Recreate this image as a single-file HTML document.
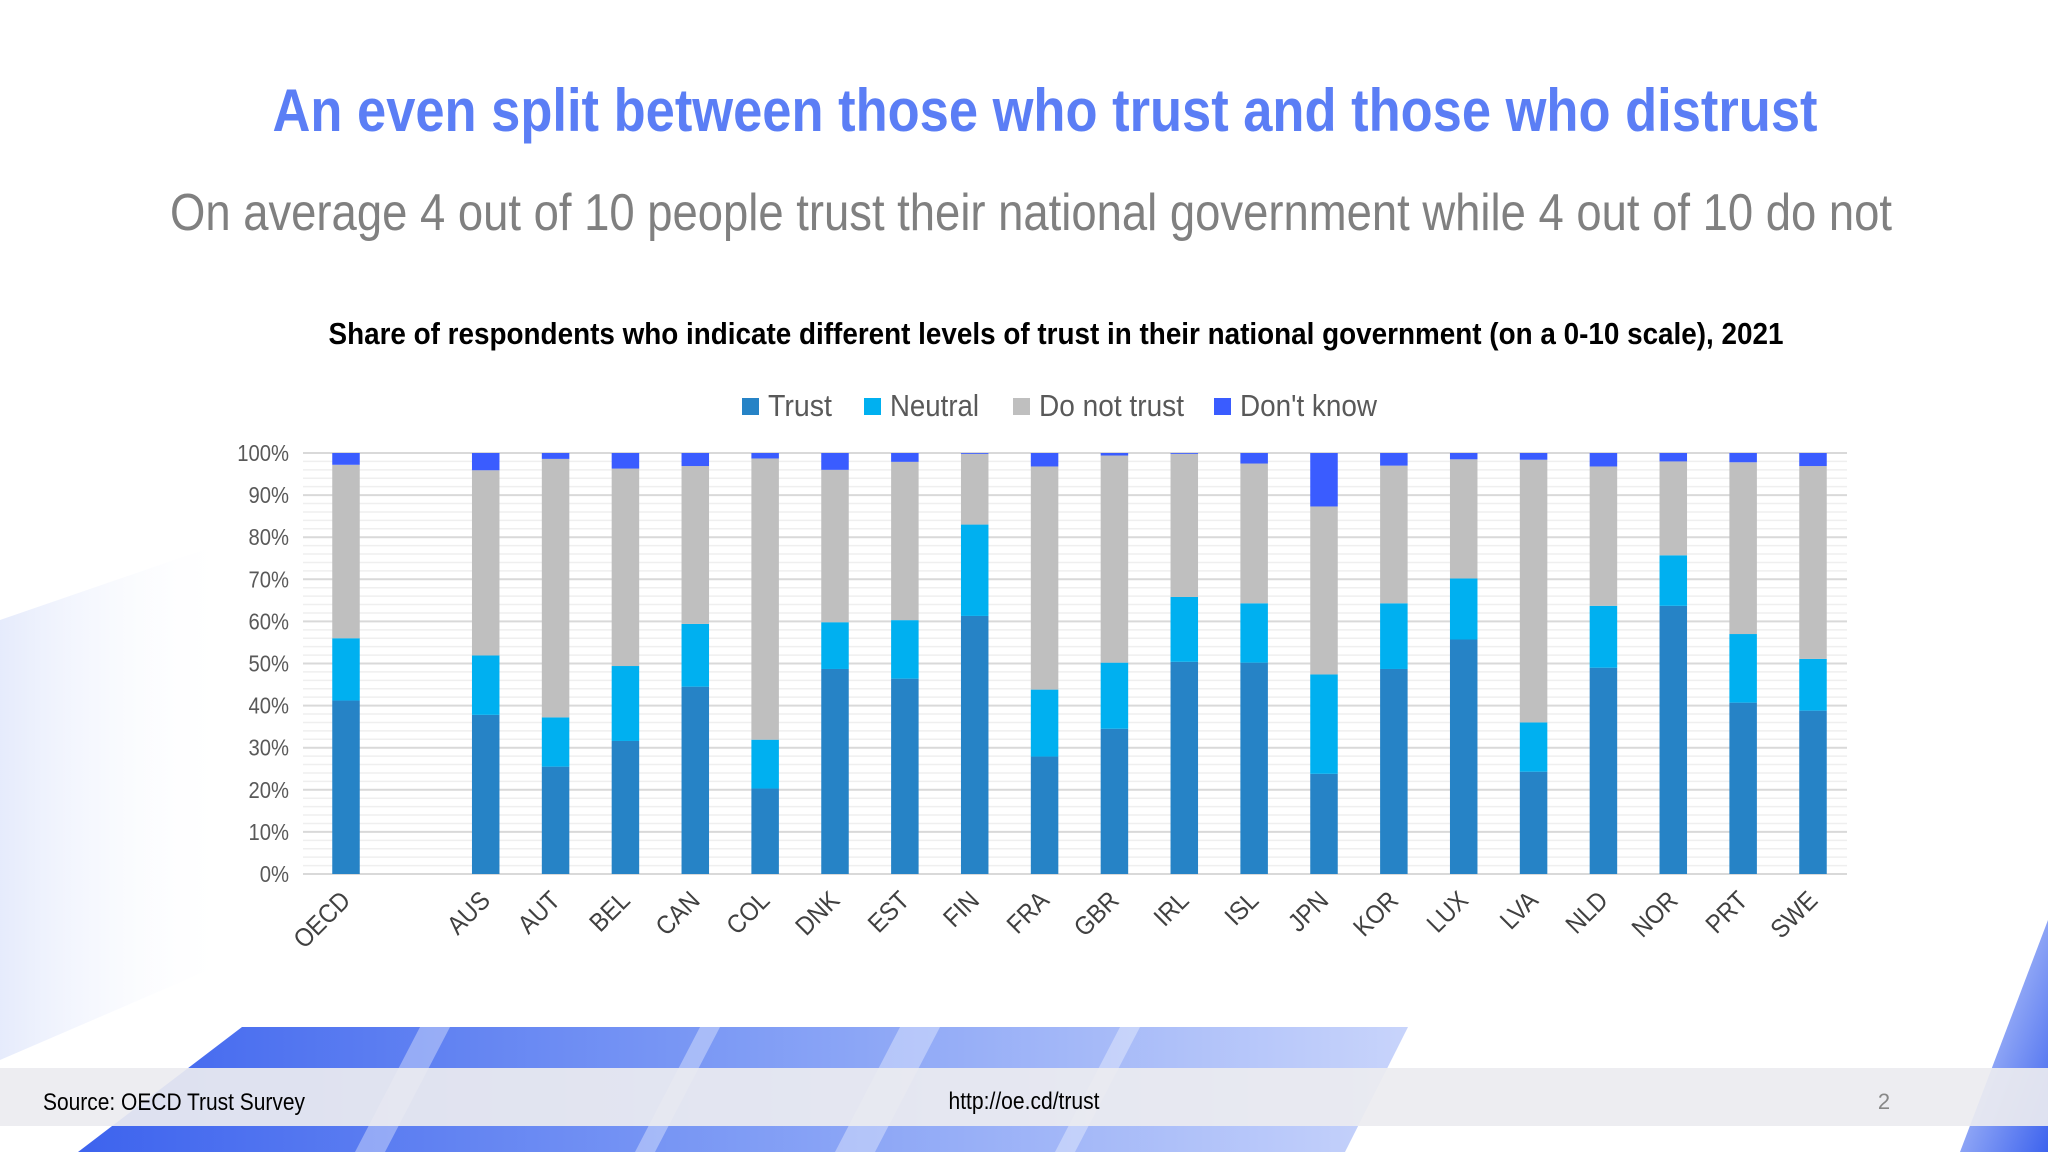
<!DOCTYPE html>
<html><head><meta charset="utf-8"><style>
html,body{margin:0;padding:0;background:#fff;}
svg{display:block;font-family:"Liberation Sans",sans-serif;}
</style></head><body>
<svg id="slide" width="2048" height="1152" viewBox="0 0 2048 1152" xmlns="http://www.w3.org/2000/svg">
<defs>
<linearGradient id="bgL" x1="0" y1="0" x2="1" y2="0"><stop offset="0" stop-color="#dfe6fb"/><stop offset="1" stop-color="#ffffff" stop-opacity="0"/></linearGradient>
<linearGradient id="band" x1="0" y1="0" x2="1" y2="0"><stop offset="0" stop-color="#3d63ee"/><stop offset="0.5" stop-color="#7f9cf5"/><stop offset="1" stop-color="#c8d4fb"/></linearGradient>
<linearGradient id="corner" x1="0" y1="0" x2="1" y2="1"><stop offset="0" stop-color="#dbe4fd"/><stop offset="1" stop-color="#3d63ee"/></linearGradient>
</defs>
<rect x="0" y="0" width="2048" height="1152" fill="#ffffff"/>
<polygon points="0,620 232,540 232,960 0,1060" fill="url(#bgL)" opacity="0.8"/>
<polygon points="242,1027 1408,1027 1345,1152 78,1152" fill="url(#band)"/>
<g opacity="0.35" fill="#ffffff">
<polygon points="420,1027 450,1027 385,1152 355,1152"/>
<polygon points="700,1027 720,1027 655,1152 635,1152"/>
<polygon points="900,1027 940,1027 875,1152 835,1152"/>
<polygon points="1120,1027 1140,1027 1075,1152 1055,1152"/>
</g>
<polygon points="2048,920 2048,1152 1960,1152" fill="url(#corner)"/>
<rect x="0" y="1068" width="2048" height="58" fill="#ececf0" opacity="0.92"/>
<text x="43" y="1110" font-size="24" fill="#000" textLength="262" lengthAdjust="spacingAndGlyphs">Source: OECD Trust Survey</text>
<text x="1024" y="1109" font-size="24" fill="#000" text-anchor="middle" textLength="151" lengthAdjust="spacingAndGlyphs">http://oe.cd/trust</text>
<text x="1884" y="1109" font-size="22" fill="#888" text-anchor="middle">2</text>

<text x="1045" y="131" font-size="60" font-weight="bold" fill="#5b7ef5" text-anchor="middle" textLength="1545" lengthAdjust="spacingAndGlyphs">An even split between those who trust and those who distrust</text>
<text x="1031" y="230" font-size="52" fill="#808080" text-anchor="middle" textLength="1722" lengthAdjust="spacingAndGlyphs">On average 4 out of 10 people trust their national government while 4 out of 10 do not</text>
<text x="1056" y="344" font-size="31" font-weight="bold" fill="#000" text-anchor="middle" textLength="1455" lengthAdjust="spacingAndGlyphs">Share of respondents who indicate different levels of trust in their national government (on a 0-10 scale), 2021</text>

<rect x="232" y="440" width="1640" height="520" fill="#ffffff"/>
<g id="grid"></g>
<g id="yticks"></g>
<g id="bars"></g>
<g id="xlabels"></g>
<g id="legend"></g>
</svg>
<script>
const categories = ["OECD","","AUS","AUT","BEL","CAN","COL","DNK","EST","FIN","FRA","GBR","IRL","ISL","JPN","KOR","LUX","LVA","NLD","NOR","PRT","SWE"];
const trust    = [41.2,null,37.8,25.5,31.6,44.5,20.3,48.7,46.4,61.3,27.9,34.5,50.4,50.2,23.8,48.7,55.7,24.3,49.0,63.7,40.7,38.8];
const neutral  = [14.8,null,14.1,11.7,17.8,14.9,11.6,11.1,13.9,21.7,15.9,15.7,15.4,14.1,23.6,15.6,14.5,11.7,14.7,12.0,16.3,12.3];
const distrust = [41.2,null,44.0,61.4,46.9,37.5,66.8,36.2,37.6,16.8,53.0,49.2,34.0,33.2,39.9,32.7,28.3,62.4,33.1,22.3,40.8,45.8];
const dontKnow = [2.8,null,4.1,1.4,3.7,3.1,1.3,4.0,2.1,0.2,3.2,0.6,0.2,2.5,12.7,3.0,1.5,1.6,3.2,2.0,2.2,3.1];
const yTicks = [0,10,20,30,40,50,60,70,80,90,100];
const seriesNames = ["Trust","Neutral","Do not trust","Don't know"];
const seriesColors = ["#2683c6","#00b0f0","#bfbfbf","#3a5cff"];

const NS="http://www.w3.org/2000/svg";
const L=303,R=1847,T=453,B=874;
const firstC=346, slot=(1813-346)/(categories.length-1), bw=27.5;
const y=v=>B-(v/100)*(B-T);
const xc=i=>firstC+slot*i;
function mk(tag,attrs,parent){const e=document.createElementNS(NS,tag);for(const k in attrs)e.setAttribute(k,attrs[k]);parent.appendChild(e);return e;}
function squeeze(t,f){const w=t.getComputedTextLength();t.setAttribute('textLength',(w*f).toFixed(1));t.setAttribute('lengthAdjust','spacingAndGlyphs');}

const grid=document.getElementById('grid');
for(let v=0;v<=100;v+=2){
  const major=v%10===0;
  const ln=mk('line',{x1:L,x2:R,y1:y(v),y2:y(v),stroke:major?'#d9d9d9':'#efefef','stroke-width':major?2:1.5},grid);
  
  
}
const yt=document.getElementById('yticks');
yTicks.forEach(v=>{
  const t=mk('text',{x:289,y:y(v)+8,'font-size':23,fill:'#595959','text-anchor':'end'},yt);
  t.textContent=v+'%';
  
  
  squeeze(t,0.88);
});
const bars=document.getElementById('bars');
const series=[trust,neutral,distrust,dontKnow];
categories.forEach((c,i)=>{
  if(trust[i]==null) return;
  let base=0;
  series.forEach((s,k)=>{
    const v=s[i];
    const r=mk('rect',{x:xc(i)-bw/2,y:y(base+v),width:bw,height:y(base)-y(base+v),fill:seriesColors[k]},bars);
    
    
    base+=v;
  });
});
const xl=document.getElementById('xlabels');
categories.forEach((c,i)=>{
  if(!c) return;
  const x=xc(i)+6, yy=902;
  const t=mk('text',{x:x,y:yy,'font-size':26,fill:'#404040','text-anchor':'end',transform:`rotate(-45 ${x} ${yy})`},xl);
  t.textContent=c;
  
  
  squeeze(t,0.9);
});
const lg=document.getElementById('legend');
const lx=[742,864,1013,1214];
const lw=[64,89,145,137];
seriesNames.forEach((n,k)=>{
  const sq=mk('rect',{x:lx[k],y:398,width:17,height:17,fill:seriesColors[k]},lg);
  
  
  const t=mk('text',{x:lx[k]+26,y:416,'font-size':31,fill:'#595959',textLength:lw[k],lengthAdjust:'spacingAndGlyphs'},lg);
  t.textContent=n;
  
  
});
</script>
</body></html>
